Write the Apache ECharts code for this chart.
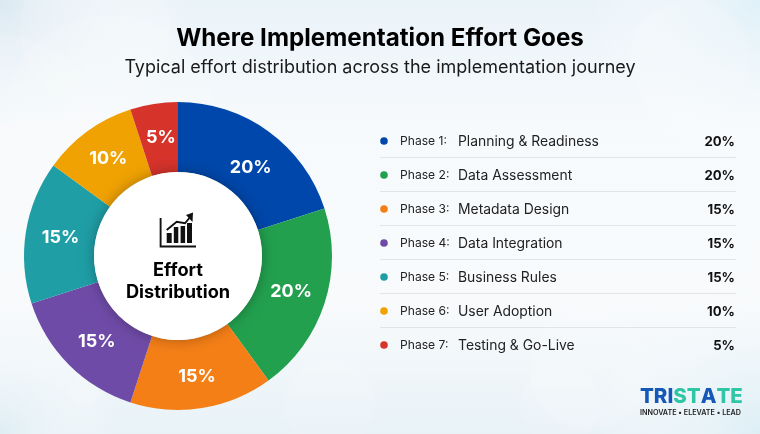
<!DOCTYPE html>
<html><head><meta charset="utf-8">
<style>html,body{margin:0;padding:0;background:#fff}#c{width:760px;height:434px}</style>
<script src="https://cdn.jsdelivr.net/npm/echarts@6/dist/echarts.min.js"></script>
</head><body><div id="c"></div>
<script>
const phases = ['Phase 1:','Phase 2:','Phase 3:','Phase 4:','Phase 5:','Phase 6:','Phase 7:'];
const names = ['Planning & Readiness','Data Assessment','Metadata Design','Data Integration','Business Rules','User Adoption','Testing & Go-Live'];
const values = [20,20,15,15,15,10,5];
const colors = ['#0047AB','#22A04E','#F57F17','#6F4BA8','#1F9EA6','#F0A202','#D6332B'];
const titleText = 'Where Implementation Effort Goes';
const subtitleText = 'Typical effort distribution across the implementation journey';
const centerLines = ['Effort','Distribution'];
const labelNudges = [[1,10],[-3,-2],[0,0],[5,-1],[3,1],[2,1],[2,2]];
const F = 'Inter, "Noto Sans", sans-serif';

const chart = echarts.init(document.getElementById('c'), null, {renderer:'canvas'});
const g = [];
// background
g.push({type:'rect',z:0,silent:true,shape:{x:0,y:0,width:760,height:434},style:{fill:new echarts.graphic.LinearGradient(0,0,0,1,[
  {offset:0,color:'#EAF3F9'},{offset:.3,color:'#F7FAFC'},{offset:.7,color:'#F8FAFC'},{offset:1,color:'#E8F2F7'}])}});
[[0,0,190,'#DCE9F2'],[760,0,170,'#DFF0F8'],[0,434,120,'#DFEDF4'],[760,434,170,'#DCEEF5']].forEach(b=>{
  g.push({type:'circle',z:0,silent:true,shape:{cx:b[0],cy:b[1],r:b[2]},style:{fill:new echarts.graphic.RadialGradient(.5,.5,.5,[{offset:0,color:b[3]},{offset:1,color:'rgba(255,255,255,0)'}])}});
});
[[95,30,75],[110,120,105],[20,165,45],[0,135,100],[590,370,60],[690,60,60],[560,405,40],[85,390,15],[330,405,45]].forEach(b=>{
  g.push({type:'circle',z:1,silent:true,shape:{cx:b[0],cy:b[1],r:b[2]},style:{fill:'rgba(255,255,255,0.14)'}});
});
// titles
g.push({type:'text',z:5,style:{text:titleText,x:380,y:38.5,align:'center',verticalAlign:'middle',font:'700 24.2px '+F,fill:'#000'}});
g.push({type:'text',z:5,style:{text:subtitleText,x:380,y:68,align:'center',verticalAlign:'middle',font:'400 18px '+F,fill:'#1a1a1a'}});
// centre disc
g.push({type:'circle',z:8,silent:true,shape:{cx:178,cy:256,r:84},style:{fill:'#fff',shadowBlur:14,shadowColor:'rgba(0,0,0,0.3)'}});
centerLines.forEach((t,i)=>g.push({type:'text',z:9,style:{text:t,x:178,y:271+i*22,align:'center',verticalAlign:'middle',font:'700 18.2px '+F,fill:'#000'}}));
// icon
g.push({type:'polyline',z:9,shape:{points:[[160.6,218],[160.6,246.5],[196,246.5]]},style:{stroke:'#111',fill:'none',lineWidth:1.9}});
[[166.7,233,5,10],[173.8,227,4.5,16],[180.6,226,4.5,17],[187,223,5,20]].forEach(r=>g.push({type:'rect',z:9,shape:{x:r[0],y:r[1],width:r[2],height:r[3]},style:{fill:'#111'}}));
g.push({type:'polyline',z:9,shape:{points:[[166.7,230],[176.7,221.7],[185,223.3],[191,216]]},style:{stroke:'#111',fill:'none',lineWidth:1.9}});
g.push({type:'polygon',z:9,shape:{points:[[186,215],[193,212.5],[192.5,222]]},style:{fill:'#111'}});
// table
const y0=141, dy=34;
names.forEach((n,i)=>{
  const y=y0+i*dy;
  g.push({type:'circle',z:5,shape:{cx:384,cy:y,r:3.8},style:{fill:colors[i]}});
  g.push({type:'text',z:5,style:{text:phases[i],x:400,y:y+0.5,verticalAlign:'middle',font:'400 12.1px '+F,fill:'#222'}});
  g.push({type:'text',z:5,style:{text:n,x:458,y:y+1,verticalAlign:'middle',font:'400 13.9px '+F,fill:'#222'}});
  g.push({type:'text',z:5,style:{text:values[i]+'%',x:735,y:y+1,align:'right',verticalAlign:'middle',font:'700 13.2px '+F,fill:'#111'}});
  if(i<names.length-1) g.push({type:'line',z:5,shape:{x1:380,y1:y+16.5,x2:736,y2:y+16.5},style:{stroke:'#E2E4E6',lineWidth:1}});
});
// logo
g.push({type:'text',z:5,style:{x:640,y:397,verticalAlign:'middle',
  text:'{a|TRI}{b|ST}{a|A}{b|TE}',rich:{a:{fill:'#1558B8',font:'800 20.5px '+F},b:{fill:'#2FC6A6',font:'800 20.5px '+F}}}});
g.push({type:'text',z:5,style:{text:'INNOVATE • ELEVATE • LEAD',x:640,y:413,verticalAlign:'middle',font:'600 7.2px '+F,fill:'#222'}});

chart.setOption({
  animation:false,
  graphic:{elements:g},
  series:[{type:'pie',center:[178,256],radius:[84,154],startAngle:90,clockwise:true,silent:true,z:3,
    label:{show:true,position:'inside',formatter:p=>p.value+'%',color:'#fff',fontFamily:F,fontSize:18,fontWeight:700},
    labelLine:{show:false},
    itemStyle:{borderWidth:0},
    data:names.map((n,i)=>({name:n,value:values[i],itemStyle:{color:colors[i]},label:{offset:labelNudges[i]}}))}]
});
</script></body></html>
